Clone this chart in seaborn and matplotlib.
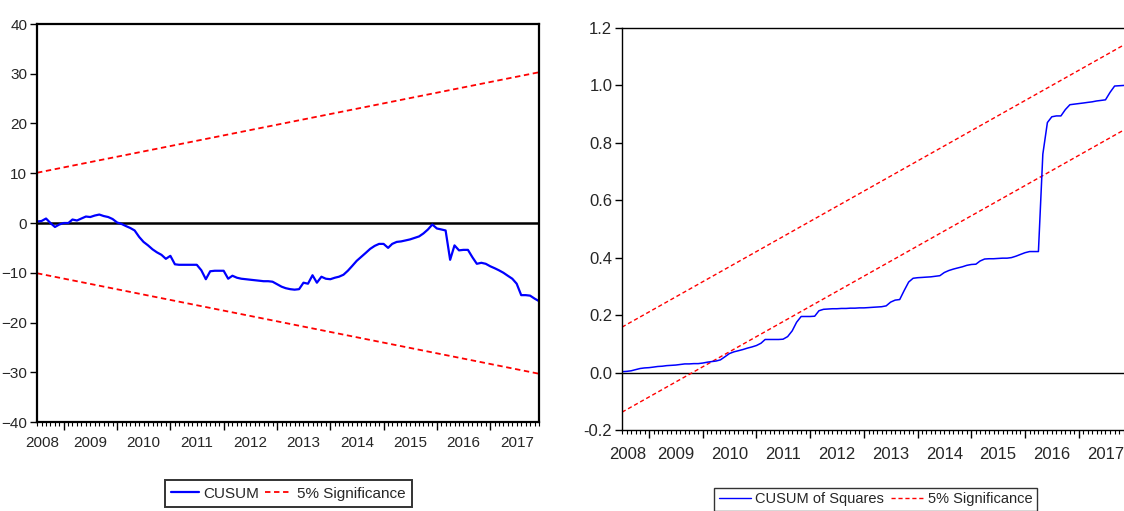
import numpy as np
import pandas as pd
import matplotlib
matplotlib.use("Agg")
import matplotlib.pyplot as plt
import matplotlib.dates as mdates
from matplotlib.lines import Line2D
import seaborn as sns

# ---------------- data ----------------
start_month = "2008-07-01"
cusum = [0.3, 0.4, 0.9, 0.0, -0.8, -0.3, 0.0, 0.0, 0.7, 0.5,
         0.9, 1.3, 1.2, 1.5, 1.7, 1.4, 1.2, 0.8, 0.1, -0.2,
         -0.6, -1.0, -1.5, -2.8, -3.8, -4.5, -5.3, -5.9, -6.4, -7.2,
         -6.6, -8.3, -8.4, -8.4, -8.4, -8.4, -8.4, -9.5, -11.3, -9.7,
         -9.6, -9.6, -9.6, -11.2, -10.6, -11.0, -11.2, -11.3, -11.4, -11.5,
         -11.6, -11.7, -11.7, -11.8, -12.3, -12.8, -13.1, -13.3, -13.4, -13.3,
         -12.0, -12.2, -10.5, -12.0, -10.8, -11.2, -11.3, -11.0, -10.8, -10.4,
         -9.6, -8.6, -7.6, -6.8, -6.0, -5.2, -4.6, -4.2, -4.2, -5.0,
         -4.2, -3.8, -3.7, -3.5, -3.3, -3.0, -2.7, -2.1, -1.3, -0.3,
         -1.1, -1.3, -1.5, -7.4, -4.5, -5.5, -5.4, -5.4, -6.9, -8.2,
         -8.0, -8.2, -8.7, -9.1, -9.5, -10.0, -10.6, -11.2, -12.2, -14.5,
         -14.5, -14.6, -15.2, -15.7]
cusum_sq = [0.003, 0.004, 0.006, 0.010, 0.014, 0.016, 0.017, 0.019, 0.021, 0.022,
            0.024, 0.025, 0.026, 0.028, 0.030, 0.030, 0.031, 0.031, 0.033, 0.036,
            0.038, 0.040, 0.044, 0.055, 0.066, 0.072, 0.076, 0.080, 0.085, 0.089,
            0.094, 0.102, 0.115, 0.115, 0.115, 0.115, 0.116, 0.125, 0.145, 0.175,
            0.195, 0.195, 0.195, 0.196, 0.215, 0.220, 0.221, 0.222, 0.222, 0.223,
            0.223, 0.224, 0.224, 0.225, 0.225, 0.226, 0.227, 0.228, 0.229, 0.232,
            0.245, 0.252, 0.254, 0.285, 0.315, 0.328, 0.330, 0.331, 0.332, 0.333,
            0.335, 0.337, 0.348, 0.355, 0.360, 0.364, 0.368, 0.373, 0.376, 0.377,
            0.388, 0.395, 0.396, 0.396, 0.397, 0.398, 0.398, 0.400, 0.405, 0.411,
            0.417, 0.421, 0.421, 0.421, 0.760, 0.870, 0.890, 0.893, 0.893, 0.915,
            0.932, 0.934, 0.936, 0.938, 0.940, 0.942, 0.945, 0.947, 0.949, 0.975,
            0.997, 0.998, 0.999, 1.000]
cusum_upper = [10.1, 30.3]      # 5% bound at first / last observation
cusum_lower = [-10.1, -30.3]
sq_upper = [0.158, 1.148]
sq_lower = [-0.138, 0.852]
year_labels = [str(y) for y in range(2008, 2018)]
cusum_yticks = [-40, -30, -20, -10, 0, 10, 20, 30, 40]
sq_yticks = [-0.2, 0.0, 0.2, 0.4, 0.6, 0.8, 1.0, 1.2]

# ---------------- figure ----------------
sns.set_style("white")
plt.rcParams["font.family"] = ["Liberation Sans", "DejaVu Sans"]

dates = pd.date_range(start_month, periods=len(cusum), freq="MS")
ends = pd.DatetimeIndex([dates[0], dates[-1]])
df1 = pd.DataFrame({"date": dates, "cusum": cusum})
df2 = pd.DataFrame({"date": dates, "sq": cusum_sq})
bnd = pd.DataFrame({"date": ends, "cu": cusum_upper, "cl": cusum_lower,
                    "su": sq_upper, "sl": sq_lower})

W, H = 1124, 511
fig = plt.figure(figsize=(W / 100, H / 100), dpi=100)
ax1 = fig.add_axes([37 / W, (H - 422) / H, 502 / W, 398 / H])
ax2 = fig.add_axes([622 / W, (H - 430) / H, 506 / W, 402.3 / H])

blue = "#0000FF"
red = "#FF0000"
dash = (0, (3, 2))

# left panel: CUSUM
ax1.axhline(0, color="black", lw=1.8, zorder=1)
sns.lineplot(data=bnd, x="date", y="cu", ax=ax1, color=red, lw=1.3, linestyle=dash)
sns.lineplot(data=bnd, x="date", y="cl", ax=ax1, color=red, lw=1.3, linestyle=dash)
sns.lineplot(data=df1, x="date", y="cusum", ax=ax1, color=blue, lw=1.6)
ax1.set_ylim(-40, 40)
ax1.set_yticks(cusum_yticks)

# right panel: CUSUM of squares
ax2.axhline(0, color="black", lw=1.0, zorder=1)
sns.lineplot(data=bnd, x="date", y="su", ax=ax2, color=red, lw=1.0, linestyle=dash)
sns.lineplot(data=bnd, x="date", y="sl", ax=ax2, color=red, lw=1.0, linestyle=dash)
sns.lineplot(data=df2, x="date", y="sq", ax=ax2, color=blue, lw=1.1)
ax2.set_ylim(-0.2, 1.2)
ax2.set_yticks(sq_yticks)
ax2.set_yticklabels([f"{v:.1f}" for v in sq_yticks])

label_dates = [pd.Timestamp("2008-08-08")] + [pd.Timestamp(f"{y}-07-02") for y in range(2009, 2018)]

for ax, lw, fs, pad in [(ax1, 1.6, 11, 4), (ax2, 1.0, 12, 6)]:
    ax.set_xlim(dates[0], dates[-1])
    ax.set_xlabel("")
    ax.set_ylabel("")
    for s in ax.spines.values():
        s.set_color("black")
        s.set_linewidth(lw)
    ax.xaxis.set_major_locator(mdates.YearLocator())
    ax.xaxis.set_minor_locator(mdates.MonthLocator())
    ax.xaxis.set_major_formatter(plt.NullFormatter())
    ax.tick_params(axis="x", which="major", direction="out", length=6, width=1, color="black", bottom=True)
    ax.tick_params(axis="x", which="minor", direction="out", length=3, width=0.8, color="black", bottom=True)
    ax.tick_params(axis="y", which="major", direction="out", length=5, width=1, color="black", left=True,
                   labelsize=fs, pad=2)
    sec = ax.secondary_xaxis("bottom")
    sec.set_xticks(label_dates)
    sec.set_xticklabels(year_labels, fontsize=fs)
    sec.tick_params(length=0, pad=pad + 6)
    for s in sec.spines.values():
        s.set_visible(False)
    if ax.get_legend() is not None:
        ax.get_legend().remove()

ax2.spines["right"].set_visible(False)

# legends
h1 = [Line2D([], [], color=blue, lw=1.6), Line2D([], [], color=red, lw=1.3, linestyle=dash)]
leg1 = fig.legend(h1, ["CUSUM", "5% Significance"], loc="center",
                  bbox_to_anchor=(288.5 / W, (H - 493.5) / H), ncol=2, frameon=True,
                  fancybox=False, edgecolor="black", fontsize=11, handlelength=1.8,
                  handletextpad=0.33, columnspacing=0.33, borderpad=0.42, borderaxespad=0)
leg1.get_frame().set_linewidth(1.4)
h2 = [Line2D([], [], color=blue, lw=1.0), Line2D([], [], color=red, lw=1.0, linestyle=dash)]
leg2 = fig.legend(h2, ["CUSUM of Squares", "5% Significance"], loc="upper center",
                  bbox_to_anchor=(875.5 / W, (H - 488) / H), ncol=2, frameon=True,
                  fancybox=False, edgecolor="black", handlelength=2.2,
                  handletextpad=0.3, columnspacing=0.5, borderpad=0.3, borderaxespad=0,
                  prop={"family": ["Liberation Sans"], "size": 10.5})
leg2.get_frame().set_linewidth(1.0)

fig.savefig("out.png", dpi=100)
